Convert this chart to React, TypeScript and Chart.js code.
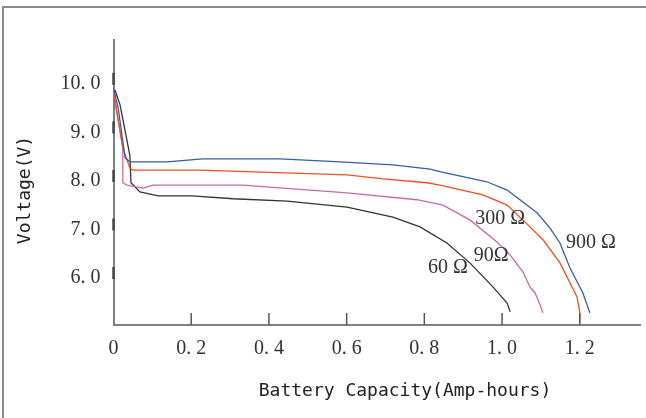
import React, { useEffect, useRef } from "react";
import { Chart, registerables } from "chart.js";

Chart.register(...registerables);

const xTicks = [0, 0.2, 0.4, 0.6, 0.8, 1.0, 1.2];
const yTicks = [6, 7, 8, 9, 10];

const ohm900X = [0, 0.012, 0.03, 0.042, 0.138, 0.23, 0.429, 0.583, 0.719, 0.815, 0.84, 0.961, 1.013, 1.046, 1.09, 1.123, 1.149, 1.174, 1.208, 1.226];
const ohm900Y = [9.81, 9.4, 8.37, 8.29, 8.29, 8.35, 8.35, 8.29, 8.23, 8.14, 8.09, 7.88, 7.71, 7.51, 7.24, 6.93, 6.62, 6.12, 5.59, 5.18];

const ohm300X = [0, 0.024, 0.042, 0.05, 0.223, 0.601, 0.694, 0.807, 0.84, 0.951, 1.013, 1.054, 1.106, 1.149, 1.193, 1.2, 1.2];
const ohm300Y = [9.71, 8.58, 8.16, 8.12, 8.12, 8.02, 7.94, 7.86, 7.81, 7.61, 7.4, 7.09, 6.68, 6.21, 5.51, 5.2, 4.98];

const ohm90X = [0, 0.024, 0.024, 0.035, 0.076, 0.102, 0.333, 0.601, 0.781, 0.848, 0.918, 0.987, 1.021, 1.054, 1.072, 1.085, 1.098, 1.105];
const ohm90Y = [9.75, 8.58, 7.86, 7.81, 7.75, 7.81, 7.81, 7.65, 7.51, 7.4, 7.09, 6.64, 6.37, 6.02, 5.71, 5.59, 5.34, 5.18];

const ohm60X = [0.004, 0.017, 0.042, 0.045, 0.068, 0.115, 0.202, 0.308, 0.447, 0.601, 0.719, 0.789, 0.858, 0.917, 0.977, 1.013, 1.021];
const ohm60Y = [9.77, 9.46, 8.43, 7.86, 7.67, 7.59, 7.59, 7.53, 7.48, 7.36, 7.15, 6.95, 6.62, 6.21, 5.71, 5.38, 5.2];

const seriesNames = ["900 Ω", "300 Ω", "90Ω", "60 Ω"];
const seriesColors = ["#3a5aa6", "#f0501f", "#c86aa0", "#333333"];
const labelX = [1.229, 0.995, 0.972, 0.861];
const labelY = [6.62, 7.11, 6.35, 6.1];

const xTitle = "Battery Capacity(Amp-hours)";
const yTitle = "Voltage(V)";

const fmt = (v: number) => (v === 0 ? "0" : v.toFixed(1).replace(".", ". "));

const toPoints = (xs: number[], ys: number[]) => xs.map((x, i) => ({ x, y: ys[i] }));

const decor = {
  id: "decor",
  afterDraw(chart: any) {
    const { ctx, chartArea } = chart;
    const x = chart.scales.x;
    const y = chart.scales.y;
    ctx.save();
    ctx.strokeStyle = "#474747";
    ctx.lineWidth = 2.5;
    yTicks.forEach((v) => {
      const py = y.getPixelForValue(v);
      ctx.beginPath();
      ctx.moveTo(chartArea.left, py - 6);
      ctx.lineTo(chartArea.left, py + 6);
      ctx.stroke();
    });
    ctx.strokeStyle = "#555555";
    ctx.lineWidth = 1.5;
    xTicks.forEach((v) => {
      if (v === 0) return;
      const px = x.getPixelForValue(v);
      ctx.beginPath();
      ctx.moveTo(px, chartArea.bottom);
      ctx.lineTo(px, chartArea.bottom - 12);
      ctx.stroke();
    });
    ctx.font = '20px "Liberation Serif"';
    ctx.fillStyle = "#333333";
    ctx.textAlign = "center";
    ctx.textBaseline = "middle";
    seriesNames.forEach((t, i) => {
      ctx.fillText(t, x.getPixelForValue(labelX[i]), y.getPixelForValue(labelY[i]));
    });
    ctx.font = '18px "DejaVu Sans Mono"';
    ctx.fillStyle = "#222222";
    ctx.fillText(xTitle, 405, 391);
    ctx.translate(25.5, 190);
    ctx.rotate(-Math.PI / 2);
    ctx.fillText(yTitle, 0, 0);
    ctx.restore();
  },
};

export default function App() {
  const ref = useRef<HTMLCanvasElement>(null);
  useEffect(() => {
    if (!ref.current) return;
    const sets = [
      toPoints(ohm900X, ohm900Y),
      toPoints(ohm300X, ohm300Y),
      toPoints(ohm90X, ohm90Y),
      toPoints(ohm60X, ohm60Y),
    ];
    const chart = new Chart(ref.current, {
      type: "line",
      data: {
        datasets: sets.map((d, i) => ({
          label: seriesNames[i],
          data: d,
          borderColor: seriesColors[i],
          borderWidth: 1.3,
          pointRadius: 0,
          tension: 0,
          fill: false,
        })),
      },
      options: {
        animation: false,
        responsive: false,
        layout: { padding: { top: 40, right: 6, left: 0, bottom: 0 } },
        plugins: { legend: { display: false }, tooltip: { enabled: false } },
        scales: {
          x: {
            type: "linear",
            min: 0,
            max: 1.355,
            afterBuildTicks: (s: any) => {
              s.ticks = xTicks.map((v) => ({ value: v }));
            },
            afterFit: (s: any) => {
              s.height = 93;
            },
            grid: { display: false, drawTicks: false },
            border: { display: true, color: "#7f7f7f", width: 2 },
            ticks: {
              padding: 12,
              color: "#333333",
              font: { family: "Liberation Serif", size: 20 },
              callback: (v: any) => fmt(Number(v)),
              maxRotation: 0,
              autoSkip: false,
            },
          },
          y: {
            type: "linear",
            min: 4.93,
            max: 10.8,
            afterBuildTicks: (s: any) => {
              s.ticks = yTicks.map((v) => ({ value: v }));
            },
            afterFit: (s: any) => {
              s.width = 113.5;
            },
            grid: { display: false, drawTicks: false },
            border: { display: true, color: "#7f7f7f", width: 2 },
            ticks: {
              padding: 13,
              labelOffset: 5,
              color: "#333333",
              font: { family: "Liberation Serif", size: 20 },
              callback: (v: any) => fmt(Number(v)),
              autoSkip: false,
            },
          },
        },
      },
      plugins: [decor],
    });
    return () => chart.destroy();
  }, []);
  return (
    <div style={{ position: "fixed", left: 0, top: 0, width: 646, height: 418, overflow: "hidden", background: "#fff" }}>
      <div
        style={{
          position: "absolute",
          left: 2,
          top: 6,
          width: 700,
          height: 500,
          borderTop: "2px solid #8c8c8c",
          borderLeft: "2px solid #8c8c8c",
        }}
      />
      <canvas ref={ref} width={646} height={418} style={{ position: "absolute", left: 0, top: 0, width: 646, height: 418 }} />
    </div>
  );
}
